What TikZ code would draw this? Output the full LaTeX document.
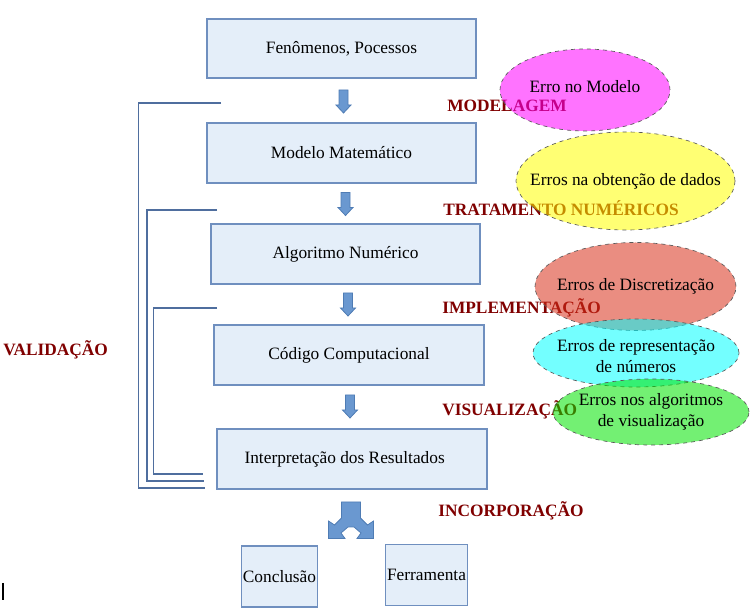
\documentclass[tikz,border=0pt]{standalone}
\usepackage{fontspec}
\setmainfont{Liberation Serif}
\usetikzlibrary{shapes.geometric}
\definecolor{boxfill}{HTML}{E4EEF9}
\definecolor{boxline}{HTML}{6F8FBF}
\definecolor{labred}{HTML}{800000}
\definecolor{brk}{HTML}{4F6E9E}
\definecolor{arrfill}{HTML}{6A98D0}
\definecolor{arrline}{HTML}{4F7CB4}
\definecolor{salmonbase}{HTML}{D8301A}
\definecolor{emag}{HTML}{FF00FF}
\definecolor{eyel}{HTML}{FFFF00}
\definecolor{ecya}{HTML}{00FFFF}
\definecolor{egre}{HTML}{00E400}
\tikzset{
  box/.style={draw=boxline, fill=boxfill, line width=0.9pt, inner sep=1pt, font=\fontsize{13}{15}\selectfont},
  lab/.style={anchor=west, inner sep=0pt, text=labred, font=\fontsize{13}{15}\selectfont\bfseries},
  err/.style={ellipse, draw=black!65, dashed, line width=0.5pt, fill opacity=0.55, draw opacity=1, inner sep=0pt},
  errtext/.style={inner sep=0pt, align=center, font=\fontsize{13}{15.5}\selectfont},
  bracket/.style={draw=brk, line width=0.9pt},
  blockdown/.pic={\draw[fill=arrfill, draw=arrline, line width=0.6pt] (-4.5,-11.5) -- (4.5,-11.5) -- (4.5,3.5) -- (7.5,3.5) -- (0,11.5) -- (-7.5,3.5) -- (-4.5,3.5) -- cycle;},
}
\begin{document}
\begin{tikzpicture}[x=0.75pt, y=-0.75pt]
\useasboundingbox (0,0) rectangle (754,616);
% boxes
\node[box, minimum width=201.75pt, minimum height=44.25pt] (b1) at (341.5,48.5) {Fenômenos, Pocessos};
\node[box, minimum width=201.75pt, minimum height=45pt] (b2) at (341.5,153) {Modelo Matemático};
\node[box, minimum width=201.75pt, minimum height=45pt] (b3) at (345.5,254) {Algoritmo Numérico};
\node[box, minimum width=202.5pt, minimum height=45pt] (b4) at (349,355) {Código Computacional};
\node[box, minimum width=202.5pt, minimum height=45pt] (b5) at (352,459) {\hspace*{-11pt}Interpretação dos Resultados};
\node[box, minimum width=56.25pt, minimum height=45.75pt] (b6) at (279.5,576.5) {Conclusão};
\node[box, minimum width=60.75pt, minimum height=45.75pt] (b7) at (426.5,575) {Ferramenta};
% block arrows
\pic (a1) at (343.5,101.5) {blockdown};
\pic (a2) at (345.5,204) {blockdown};
\pic (a3) at (348,304.5) {blockdown};
\pic (a4) at (350,406.5) {blockdown};
% split arrow
\coordinate (sp) at (351,502);
\draw[fill=arrfill, draw=arrline, line width=0.6pt, shift={(sp)}]
  (-9.5,0) -- (9.5,0) -- (9.5,16) -- (16.5,23) -- (22.5,19) -- (22.5,36.5) -- (6,36.5) -- (10,31) -- (3,25) -- (0,25)
  -- (-3,25) -- (-10,31) -- (-6,36.5) -- (-22.5,36.5) -- (-22.5,19) -- (-16.5,23) -- (-9.5,16) -- cycle;
% brackets
\coordinate (o1) at (221,103); \coordinate (o2) at (138.5,103); \coordinate (o3) at (138.5,488); \coordinate (o4) at (205,488);
\coordinate (m1) at (217,210); \coordinate (m2) at (147,210); \coordinate (m3) at (147,481); \coordinate (m4) at (204,481);
\coordinate (i1) at (217,308); \coordinate (i2) at (153.5,308); \coordinate (i3) at (153.5,474); \coordinate (i4) at (203,474);
\draw[bracket] (o1) -- (o2) -- (o3) -- (o4);
\draw[bracket] (m1) -- (m2) -- (m3) -- (m4);
\draw[bracket] (i1) -- (i2) -- (i3) -- (i4);
% labels
\node[lab] (l1) at (447,106) {MODELAGEM};
\node[lab] (l2) at (443,208) {TRATAMENTO NUMÉRICOS};
\node[lab] (l3) at (442,308) {IMPLEMENTAÇÃO};
\node[lab] (l4) at (442,410) {VISUALIZAÇÃO};
\node[lab] (l5) at (438,511) {INCORPORAÇÃO};
\node[lab] (l6) at (3,350) {VALIDAÇÃO};
% error ellipses
\node[err, fill=emag, minimum width=127.5pt, minimum height=61.5pt] (e1) at (585,90) {};
\node[errtext] (t1) at (585,87) {Erro no Modelo};
\node[err, fill=eyel, minimum width=164.25pt, minimum height=73.5pt] (e2) at (625.5,181) {};
\node[errtext] (t2) at (625.5,181) {Erros na obtenção de dados};
\node[err, fill=salmonbase, minimum width=150.75pt, minimum height=66pt] (e3) at (635.5,286.5) {};
\node[errtext] (t3) at (635.5,286) {Erros de Discretização};
\node[err, fill=ecya, minimum width=154.5pt, minimum height=51pt] (e4) at (636,353) {};
\node[errtext] (t4) at (636,356) {Erros de representação\\de números};
\node[err, fill=egre, minimum width=147pt, minimum height=49.5pt] (e5) at (651,412) {};
\node[errtext] (t5) at (651,412) {Erros nos algoritmos\\de visualização};
% cursor bar
\coordinate (c1) at (3,583); \coordinate (c2) at (3,600);
\draw[black, line width=1.2pt] (c1) -- (c2);
\end{tikzpicture}
\end{document}
